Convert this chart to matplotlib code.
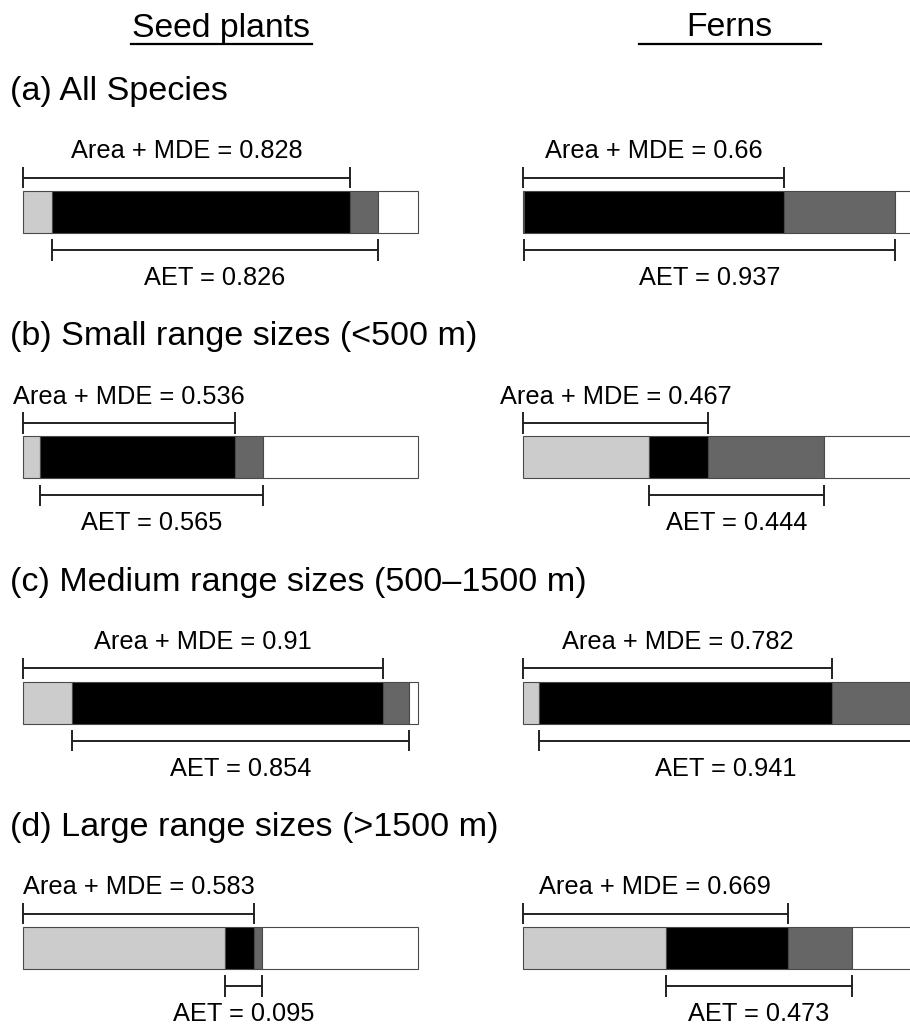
import matplotlib
matplotlib.use("Agg")
import matplotlib.pyplot as plt
from matplotlib.lines import Line2D
import numpy as np

plt.rcParams['font.family'] = ['Liberation Sans', 'DejaVu Sans']

# variance partition values (fractions of explained variance)
panel_titles = ["(a) All Species",
                "(b) Small range sizes (<500 m)",
                "(c) Medium range sizes (500\u20131500 m)",
                "(d) Large range sizes (>1500 m)"]
groups = ["Seed plants", "Ferns"]

seed_area_mde = [0.828, 0.536, 0.91, 0.583]
seed_aet = [0.826, 0.565, 0.854, 0.095]
seed_shared = [0.756, 0.493, 0.787, 0.073]

fern_area_mde = [0.66, 0.467, 0.782, 0.669]
fern_aet = [0.937, 0.444, 0.941, 0.473]
fern_shared = [0.657, 0.150, 0.741, 0.309]

W, H = 910, 1026
LIGHT, SHARED, DARK = "#cccccc", "#000000", "#666666"
EDGE = "#4a4a4a"

fig = plt.figure(figsize=(W / 100, H / 100), dpi=100)

# row centres in pixels: 212 + 245.33*row
row_px0, row_step = 212.0, 245.33
ylim_top = -row_px0 / row_step
ylim_bot = (H - row_px0) / row_step
bar_h = 42.3 / row_step


def fmt(v):
    s = ("%.3f" % v).rstrip("0")
    return s


def draw_group(ax, area_mde, aet, shared):
    area_mde = np.array(area_mde)
    aet = np.array(aet)
    shared = np.array(shared)
    area_only = area_mde - shared
    aet_only = aet - shared
    unexpl = 1 - (area_only + shared + aet_only)
    rows = np.arange(len(area_mde))

    left = np.zeros(len(rows))
    for seg, col in [(area_only, LIGHT), (shared, SHARED), (aet_only, DARK), (unexpl, "white")]:
        bars = ax.barh(rows, seg, left=left, height=bar_h, color=col,
                       edgecolor=EDGE, linewidth=0.8)
        for b in bars:
            b.set_clip_on(False)
        left = left + seg

    tick = 0.043
    for r in rows:
        # Area + MDE bracket above the bar
        y = r - 0.140
        x0, x1 = 0.0, area_mde[r]
        ax.plot([x0, x1], [y, y], color="#222222", lw=1.4, clip_on=False)
        ax.vlines([x0, x1], y - tick, y + tick, color="#222222", lw=1.4, clip_on=False)
        ax.text((x0 + x1) / 2, r - 0.219, "Area + MDE = " + fmt(area_mde[r]),
                ha="center", va="baseline", fontsize=18.3)
        # AET bracket below the bar
        y = r + 0.155
        x0, x1 = area_only[r], area_only[r] + aet[r]
        ax.plot([x0, x1], [y, y], color="#222222", lw=1.4, clip_on=False)
        ax.vlines([x0, x1], y - tick, y + tick, color="#222222", lw=1.4, clip_on=False)
        ax.text((x0 + x1) / 2, r + 0.298, "AET = " + fmt(aet[r]),
                ha="center", va="baseline", fontsize=18.3)

    ax.set_xlim(0, 1)
    ax.set_ylim(ylim_bot, ylim_top)
    ax.axis("off")


ax_seed = fig.add_axes([23.3 / W, 0, 395 / W, 1])
ax_fern = fig.add_axes([523.3 / W, 0, 395 / W, 1])
ax_seed.patch.set_alpha(0)
ax_fern.patch.set_alpha(0)

draw_group(ax_seed, seed_area_mde, seed_aet, seed_shared)
draw_group(ax_fern, fern_area_mde, fern_aet, fern_shared)

# column headers with underline
fig.text(220.5 / W, 1 - 36.7 / H, groups[0], ha="center", va="baseline", fontsize=24.3)
fig.add_artist(Line2D([131 / W, 312 / W], [1 - 44.3 / H] * 2, color="black", lw=1.6))
fig.text(729 / W, 1 - 36.0 / H, groups[1], ha="center", va="baseline", fontsize=24.3)
fig.add_artist(Line2D([639 / W, 821 / W], [1 - 44.3 / H] * 2, color="black", lw=1.6))

# panel titles
for i, t in enumerate(panel_titles):
    fig.text(10 / W, 1 - (100 + row_step * i) / H, t, ha="left", va="baseline", fontsize=24.6)

fig.savefig("out.png", dpi=100, facecolor="white")
